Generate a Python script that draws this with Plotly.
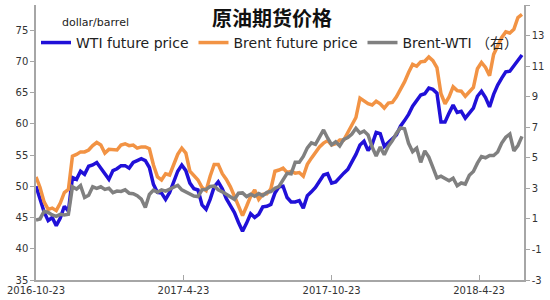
import pandas as pd
import plotly.graph_objects as go

# 5-day sampling grid starting 2016-10-23
dates = pd.date_range("2016-10-23", periods=121, freq="5D")

wti = [50.0, 48.1, 45.9, 44.5, 45.0, 43.7, 44.9, 46.8, 46.0, 51.4,
       51.1, 52.4, 51.9, 53.2, 53.4, 53.8, 52.9, 52.0, 51.1, 52.5,
       52.8, 53.3, 53.3, 52.9, 53.8, 54.1, 54.4, 54.1, 53.0, 50.3,
       49.0, 48.9, 47.9, 49.0, 50.9, 52.4, 53.4, 52.5, 50.5, 49.6,
       49.4, 47.0, 46.3, 47.9, 49.9, 50.7, 49.6, 48.0, 46.9, 45.8,
       44.2, 42.8, 44.1, 45.6, 45.0, 45.5, 46.7, 46.8, 47.1, 48.9,
       49.9, 50.0, 48.2, 47.5, 47.5, 47.7, 46.5, 48.5, 49.1, 49.8,
       50.8, 51.8, 52.0, 50.5, 50.7, 51.5, 52.1, 52.7, 53.9, 55.1,
       56.6, 57.2, 55.7, 56.7, 58.6, 58.4, 56.4, 57.1, 57.6, 58.2,
       59.6, 60.5, 61.5, 62.8, 63.8, 64.6, 64.8, 65.7, 65.5, 64.9,
       60.3, 60.3, 61.7, 63.0, 61.8, 62.0, 60.9, 61.7, 62.5, 64.4,
       65.2, 64.2, 62.7, 64.7, 66.2, 67.3, 68.3, 68.4, 69.3, 70.3,
       71.0]

brent = [51.5, 49.8, 47.5, 46.3, 46.5, 46.1, 47.3, 49.0, 49.5, 54.8,
         55.1, 55.5, 55.5, 55.8, 56.5, 57.0, 56.6, 55.3, 55.9, 55.9,
         55.8, 56.6, 56.8, 56.5, 56.6, 56.1, 56.3, 56.3, 56.0, 53.4,
         51.5, 51.0, 52.0, 51.8, 53.6, 55.1, 56.1, 55.3, 52.4, 51.6,
         51.0, 49.8, 49.3, 51.6, 53.5, 53.5, 52.0, 51.1, 49.9, 48.4,
         46.8, 45.3, 46.8, 48.4, 49.4, 47.9, 48.7, 48.8, 49.6, 52.4,
         52.6, 52.9, 52.2, 52.4, 52.1, 52.2, 51.6, 53.5, 54.5, 55.5,
         56.3, 56.9, 57.3, 56.6, 56.8, 57.4, 57.4, 58.6, 59.7, 61.0,
         64.1, 63.6, 63.2, 63.0, 63.6, 63.2, 62.5, 63.3, 63.4, 64.3,
         65.4, 66.7, 68.2, 69.5, 69.2, 69.9, 70.0, 70.7, 70.1, 69.0,
         64.8, 63.2, 64.3, 65.9, 65.3, 65.2, 64.4, 65.2, 65.8, 68.8,
         69.8, 69.0, 67.7, 71.1, 72.6, 73.8, 74.7, 74.5, 75.1, 77.0,
         77.5]

spread = [0.93, 1.0, 1.5, 1.42, 1.26, 1.17, 1.3, 1.25, 1.3, 3.1,
          2.95, 3.18, 2.4, 2.55, 3.1, 3.0, 3.1, 2.93, 3.0, 2.72,
          2.82, 2.8, 2.9, 2.68, 2.65, 2.52, 2.3, 1.75, 2.6, 2.88,
          2.75, 2.9, 2.82, 2.95, 3.05, 3.2, 2.9, 2.76, 2.62, 2.5,
          2.46, 2.9, 2.93, 3.12, 3.15, 2.9, 2.77, 2.6, 2.46, 2.28,
          2.68, 2.7, 2.46, 2.62, 2.48, 2.66, 2.52, 2.74, 2.79, 3.0,
          3.12, 3.53, 3.98, 3.95, 4.7, 4.7, 5.09, 5.65, 5.98, 5.88,
          6.35, 6.82, 6.3, 5.85, 6.05, 5.77, 6.2, 6.32, 6.55, 6.93,
          6.62, 6.75, 6.5, 5.7, 5.12, 5.7, 5.2, 5.75, 6.12, 6.6,
          6.95, 6.9, 5.95, 5.4, 5.63, 4.7, 5.45, 5.05, 4.37, 3.68,
          3.8, 3.68, 3.5, 3.66, 3.17, 3.35, 3.28, 3.86, 4.1, 4.65,
          5.08, 5.0, 5.15, 5.15, 5.38, 5.96, 6.35, 6.55, 5.45, 5.8,
          6.4]

x_tickvals = ["2016-10-23", "2017-04-23", "2017-10-23", "2018-04-23"]
x_ticktext = ["2016-10-23", "2017-4-23", "2017-10-23", "2018-4-23"]
left_ticks = [35, 40, 45, 50, 55, 60, 65, 70, 75]
right_ticks = [-3, -1, 1, 3, 5, 7, 9, 11, 13, 15]
right_ticktext = ["-3", "-1", "1", "3", "5", "7", "9", "11", "13", "15"]

names = ["WTI future price", "Brent future price", "Brent-WTI （右）"]
colors = ["#2010D8", "#F29344", "#808080"]

fig = go.Figure()
fig.add_trace(go.Scatter(x=dates, y=wti, name=names[0], mode="lines",
                         line=dict(color=colors[0], width=3.5)))
fig.add_trace(go.Scatter(x=dates, y=brent, name=names[1], mode="lines",
                         line=dict(color=colors[1], width=3.5)))
fig.add_trace(go.Scatter(x=dates, y=spread, name=names[2], mode="lines", yaxis="y2",
                         line=dict(color=colors[2], width=3.5)))

tickfont = dict(family="DejaVu Sans", size=10, color="#333333")
axcol = "#A6A6A6"

fig.update_layout(
    width=550, height=300,
    margin=dict(l=36, r=26, t=5, b=20),
    paper_bgcolor="white", plot_bgcolor="white",
    showlegend=True,
    legend=dict(orientation="h", x=0.0, xanchor="left", y=0.862, yanchor="middle",
                font=dict(family="DejaVu Sans, Noto Sans CJK SC", size=14, color="#222222"),
                bgcolor="rgba(0,0,0,0)", itemwidth=30, tracegroupgap=0),
    xaxis=dict(type="date", range=["2016-10-23", "2018-06-17 12:00"],
               tickvals=x_tickvals, ticktext=x_ticktext, tickfont=tickfont,
               showgrid=False, zeroline=False, showline=True, linecolor=axcol, linewidth=1.5,
               ticks="inside", ticklen=5, tickcolor=axcol),
    yaxis=dict(range=[35, 79], tickvals=left_ticks, tickfont=tickfont,
               showgrid=False, zeroline=False, showline=True, linecolor=axcol, linewidth=1.5,
               ticks="outside", ticklen=4, tickcolor=axcol),
    yaxis2=dict(range=[-3, 15], tickvals=right_ticks, ticktext=right_ticktext,
                tickfont=tickfont, overlaying="y",
                side="right", showgrid=False, zeroline=False, showline=True,
                linecolor=axcol, linewidth=1.5, ticks="outside", ticklen=4, tickcolor=axcol),
    annotations=[
        dict(text="<b>原油期货价格</b>", xref="paper", yref="paper", x=0.4836, y=0.956,
             xanchor="center", yanchor="middle", showarrow=False,
             font=dict(family="Noto Sans CJK SC", size=20, color="#111111")),
        dict(text="dollar/barrel", xref="paper", yref="paper", x=0.049, y=0.937,
             xanchor="left", yanchor="middle", showarrow=False,
             font=dict(family="DejaVu Sans", size=11, color="#222222")),
    ],
)

fig.write_html("out.html")
